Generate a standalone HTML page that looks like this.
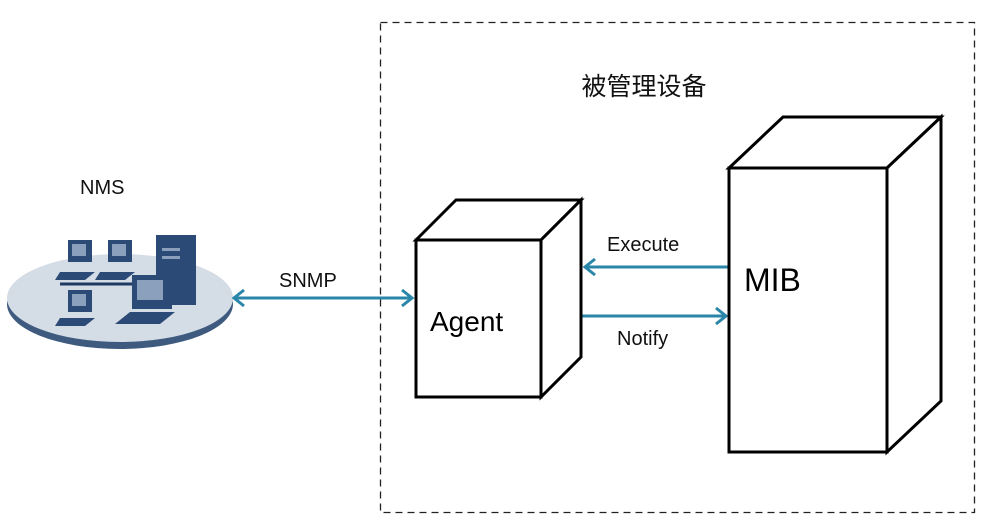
<!DOCTYPE html>
<html><head><meta charset="utf-8"><style>body{margin:0;background:#fff}svg{display:block}text{font-family:"Liberation Sans","Noto Sans CJK SC",sans-serif}</style></head><body>
<svg width="984" height="524" viewBox="0 0 984 524">
<rect x="380.5" y="22.5" width="594" height="490" fill="none" stroke="#222" stroke-width="1.3" stroke-dasharray="7,5"/>
<text x="644" y="95" font-size="25" text-anchor="middle" fill="#111">被管理设备</text>
<text x="80" y="194" font-size="20" fill="#111">NMS</text>
<ellipse cx="120" cy="304" rx="113" ry="45" fill="#3e5a7e"/>
<ellipse cx="120" cy="298" rx="113" ry="44" fill="#d4dce6"/>
<line x1="60" y1="284" x2="135" y2="284" stroke="#1e3a64" stroke-width="3"/>
<g fill="#2b4a76">
<rect x="68" y="240" width="24" height="22"/><rect x="108" y="240" width="24" height="22"/><rect x="68" y="290" width="24" height="22"/>
<rect x="156" y="235" width="40" height="70"/><rect x="132" y="275" width="40" height="34"/>
<polygon points="60,272 95,272 85,280 55,280"/><polygon points="100,272 135,272 125,280 95,280"/><polygon points="60,318 95,318 85,326 55,326"/><polygon points="130,312 175,312 160,324 115,324"/>
</g>
<g fill="#8aa0bc"><rect x="72" y="244" width="14" height="12"/><rect x="112" y="244" width="14" height="12"/><rect x="72" y="294" width="14" height="12"/><rect x="137" y="280" width="26" height="20"/><rect x="162" y="248" width="18" height="3"/><rect x="162" y="256" width="18" height="3"/></g>
<g stroke="#2a86a8" stroke-width="3" fill="none">
<line x1="234" y1="298" x2="412" y2="298"/>
<polyline points="244,290 234,298 244,306"/>
<polyline points="402,290 412,298 402,306"/>
<line x1="585" y1="267" x2="729" y2="267"/>
<polyline points="595,259 585,267 595,275"/>
<line x1="580" y1="316" x2="726" y2="316"/>
<polyline points="716,308 726,316 716,324"/>
</g>
<text x="279" y="287" font-size="20" fill="#111">SNMP</text>
<text x="607" y="251" font-size="20" fill="#111">Execute</text>
<text x="617" y="345" font-size="20" fill="#111">Notify</text>
<g fill="#fff" stroke="#000" stroke-width="3" stroke-linejoin="miter">
<polygon points="416,240 456,200 581,200 541,240"/>
<polygon points="541,240 581,200 581,357 541,397"/>
<rect x="416" y="240" width="125" height="157"/>
<polygon points="729,168 783,117 941,117 887,168"/>
<polygon points="887,168 941,117 941,401 887,452"/>
<rect x="729" y="168" width="158" height="284"/>
</g>
<text x="430" y="331" font-size="28" fill="#000">Agent</text>
<text x="744" y="291" font-size="32" fill="#000">MIB</text>
</svg>
</body></html>
